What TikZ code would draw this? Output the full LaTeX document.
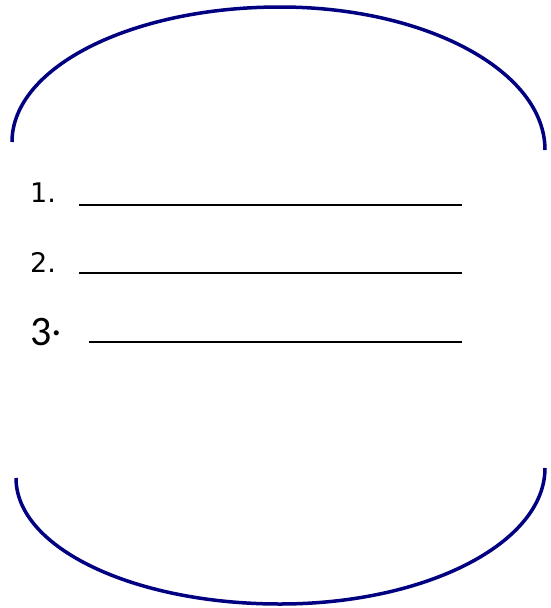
\documentclass[tikz,border=0pt]{standalone}
\usepackage{fontspec}
\setmainfont{DejaVu Sans}
\newfontfamily\carl{Carlito}
\definecolor{arcblue}{RGB}{0,0,128}
\begin{document}
\begin{tikzpicture}[x=1pt,y=-1pt,
  arcline/.style={draw=arcblue,line width=3.5pt},
  blank/.style={draw=black,line width=2.5pt},
  numlabel/.style={anchor=base west,inner sep=0pt,font=\fontsize{27}{31}\selectfont}]
\useasboundingbox (0,0) rectangle (550,608);
% top arc
\coordinate (tl) at (12,142);
\coordinate (tt) at (280,7);
\coordinate (tr) at (545,150);
\draw[arcline] (tl) .. controls (12,67) and (132,7) .. (tt)
  .. controls (426,7) and (545,71) .. (tr);
% bottom arc
\coordinate (bl) at (16,478);
\coordinate (bb) at (280,604);
\coordinate (br) at (545,468);
\draw[arcline] (bl) .. controls (16,548) and (134,604) .. (bb)
  .. controls (426,604) and (545,543) .. (br);
% numbers
\node[numlabel] (n1) at (30,202) {1.};
\node[numlabel] (n2) at (30,272) {2.};
\node[numlabel,font=\carl\fontsize{42}{48}\selectfont] (n3) at (30,345) {3\raisebox{10pt}{.}};
% blanks
\coordinate (a1) at (79,205); \coordinate (b1) at (462,205);
\coordinate (a2) at (79,273); \coordinate (b2) at (462,273);
\coordinate (a3) at (89,342); \coordinate (b3) at (462,342);
\draw[blank] (a1) -- (b1);
\draw[blank] (a2) -- (b2);
\draw[blank] (a3) -- (b3);
\end{tikzpicture}
\end{document}
